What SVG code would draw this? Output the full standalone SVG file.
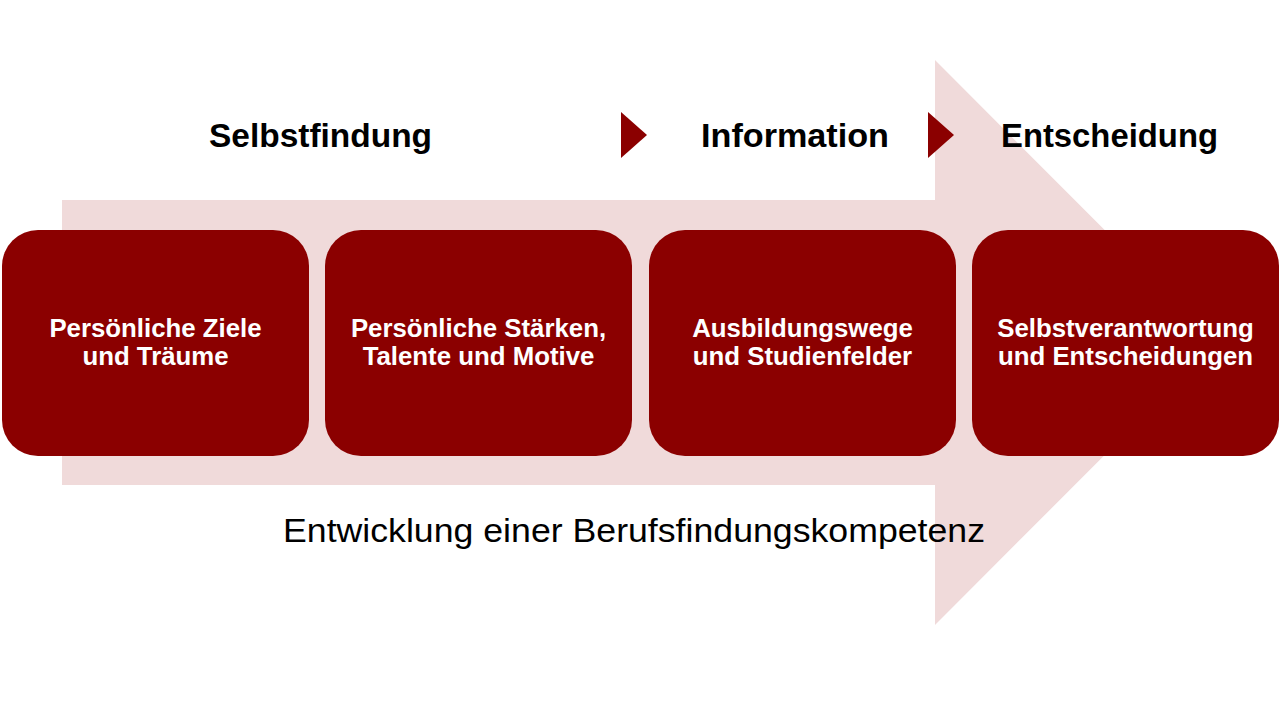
<svg xmlns="http://www.w3.org/2000/svg" width="1280" height="720" viewBox="0 0 1280 720">
<style>
.box{fill:#8B0000;}
.bt{font-family:"Liberation Sans",Arial,sans-serif;font-weight:bold;font-size:25.8px;fill:#fff;text-anchor:middle;}
.hd{font-family:"Liberation Sans",Arial,sans-serif;font-weight:bold;font-size:33px;fill:#000;text-anchor:middle;}
.tri{fill:#8B0000;}
</style>
<rect width="1280" height="720" fill="#fff"/>
<g id="connectors">
<polygon id="bigArrow" points="62,200 935,200 935,60 1217,342.5 935,625 935,485 62,485" fill="#F0DADA"/>
<polygon class="tri" points="621,112 647,135 621,158"/>
<polygon class="tri" points="928,112 954,135 928,158"/>
</g>
<g id="heading-selbstfindung"><text class="hd" x="320.5" y="147" textLength="223" lengthAdjust="spacingAndGlyphs">Selbstfindung</text></g>
<g id="heading-information"><text class="hd" x="795" y="147" textLength="188" lengthAdjust="spacingAndGlyphs">Information</text></g>
<g id="heading-entscheidung"><text class="hd" x="1109.5" y="147" textLength="217" lengthAdjust="spacingAndGlyphs">Entscheidung</text></g>
<g id="node1">
<rect class="box" x="2" y="230" width="307" height="226" rx="36"/>
<text class="bt" x="155.5" y="337">Persönliche Ziele</text>
<text class="bt" x="155.5" y="365">und Träume</text>
</g>
<g id="node2">
<rect class="box" x="325" y="230" width="307" height="226" rx="36"/>
<text class="bt" x="478.5" y="337">Persönliche Stärken,</text>
<text class="bt" x="478.5" y="365">Talente und Motive</text>
</g>
<g id="node3">
<rect class="box" x="649" y="230" width="307" height="226" rx="36"/>
<text class="bt" x="802.5" y="337">Ausbildungswege</text>
<text class="bt" x="802.5" y="365">und Studienfelder</text>
</g>
<g id="node4">
<rect class="box" x="972" y="230" width="307" height="226" rx="36"/>
<text class="bt" x="1125.5" y="337">Selbstverantwortung</text>
<text class="bt" x="1125.5" y="365">und Entscheidungen</text>
</g>
<g id="footer"><text x="634" y="542" font-family="'Liberation Sans',Arial,sans-serif" font-size="34" fill="#000" text-anchor="middle" textLength="702" lengthAdjust="spacingAndGlyphs">Entwicklung einer Berufsfindungskompetenz</text></g>
</svg>
